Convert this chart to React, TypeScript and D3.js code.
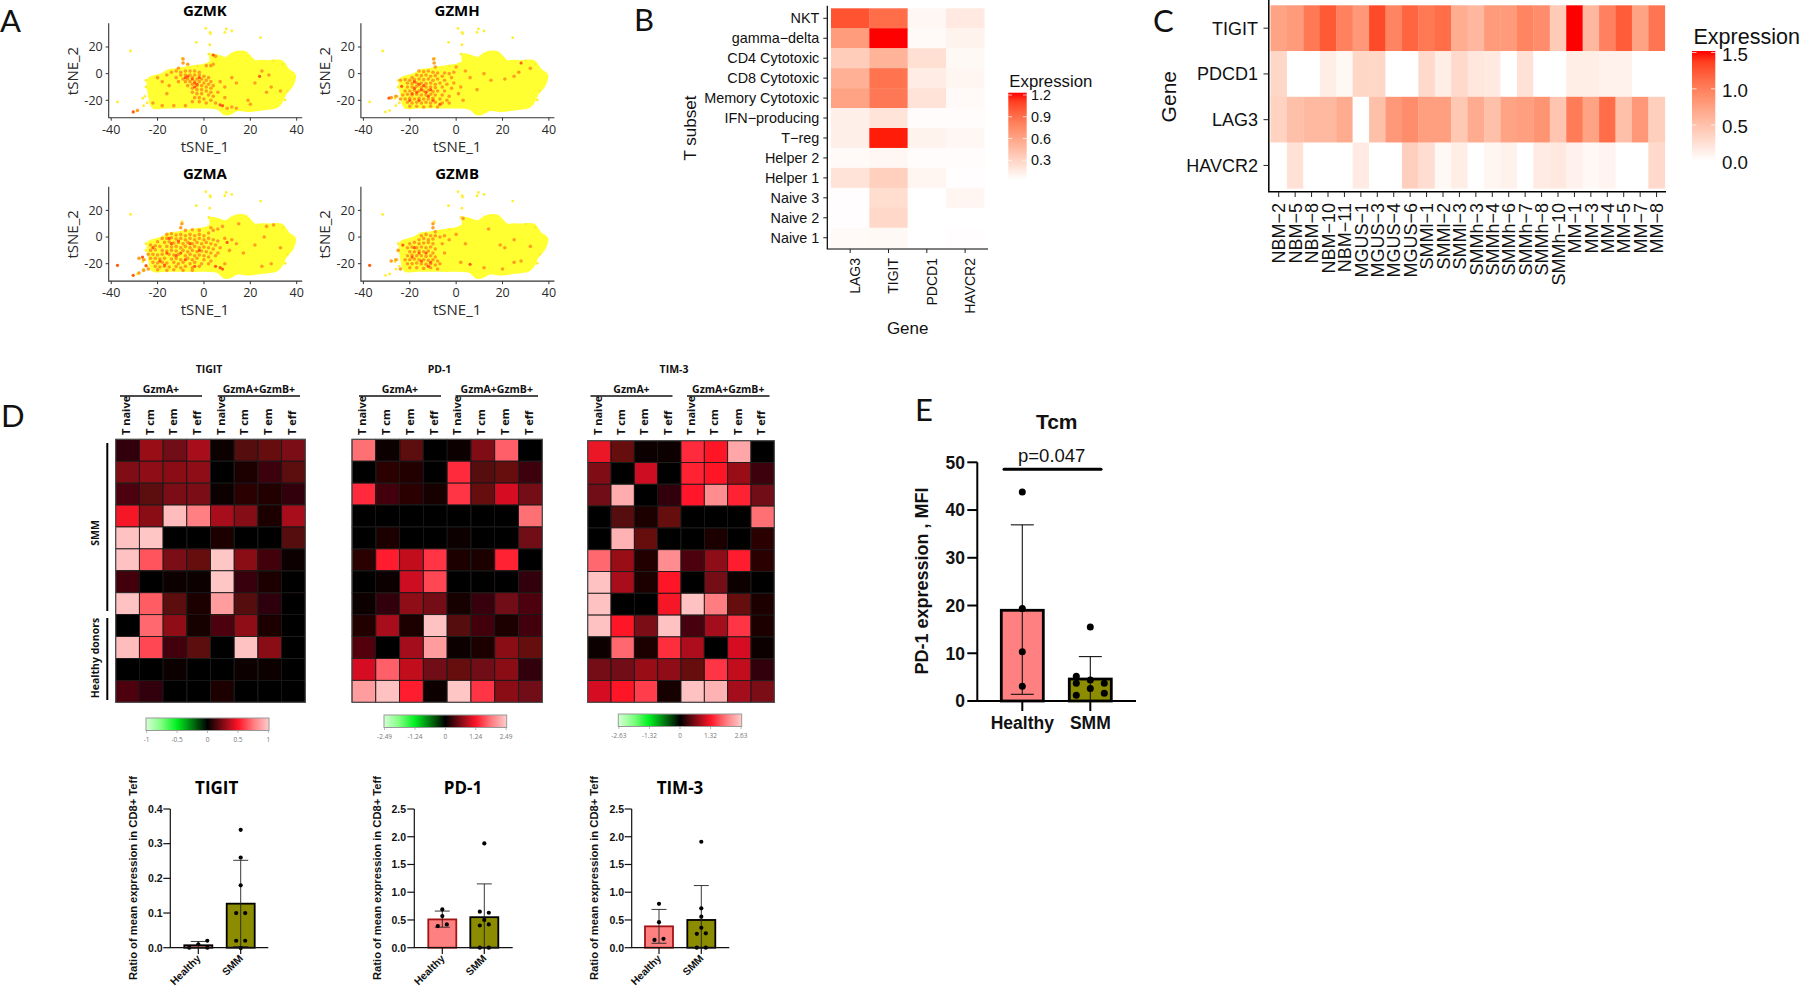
import React from "react";
import * as d3 from "d3";

// ---------- Panel A data ----------
const genesA = ["GZMK", "GZMH", "GZMA", "GZMB"];
const cloudOutline: [number, number][] = [[-23.8,-4.2],[-18.5,-1],[-15.2,2.2],[-12,3],[-8.6,4],[-3,5.5],[0.5,6.5],[3,9],[3,14],[7,12.5],[9.6,11.5],[12,14.5],[14.5,16],[17.8,15.7],[20,12],[22,9],[25,9.3],[27.7,9],[33.5,9],[36.3,2.7],[39,-1],[38,-8.5],[35,-15],[33,-22],[31,-25],[25,-26.5],[19.5,-27.7],[14.5,-27],[11,-30],[8.7,-30],[6,-26],[-5.3,-25],[-16.8,-25],[-22,-25],[-23.4,-17]];
const outliers: [number, number][] = [[-31.7,17],[0.8,34],[2.6,31],[2.8,30],[9.6,33.5],[9,31],[12,32],[24.4,27],[-3.3,23.5],[2.5,21.7],[2.1,14.7],[-37.3,-21.2],[-30.5,-28.7],[-28.7,-27.7],[-25.4,-17],[-26.4,-18.5],[-25,-10],[35,-19.7],[-2.8,5.7],[-9.4,11.5],[-25,-5],[-24.5,-22],[-26,-24],[30,9.5],[34,7],[36,-13]];

const gzmkMid: [number, number][] = [[-12,2],[-10,1],[-8,2],[-6,2],[-4,2],[-2,1],[-9,8],[-9,11],[-7,7],[-10,-1],[-8,-1],[-6,-1],[-4,-1],[-2,-1],[0,-2],[2,-3],[-12,-3],[-9,-4],[-7,-4],[-5,-3],[-3,-4],[-1,-4],[1,-5],[3,-6],[-11,-6],[-8,-6],[-6,-6],[-4,-6],[-2,-6],[0,-7],[2,-8],[4,-9],[-7,-9],[-5,-8],[-3,-9],[-1,-9],[1,-10],[3,-11],[-5,-11],[-3,-12],[-1,-12],[1,-13],[3,-14],[6,-14],[-5,-14],[-3,-15],[-1,-15],[2,-16],[4,-17],[-4,-18],[-2,-18],[0,-19],[3,-20],[-5,-21],[-2,-21],[1,-22],[5,-22],[-16,-1],[-14,1],[-18,-6],[-15,-9],[-20,-3],[3,6],[1,6],[-16,-15],[-22,-22],[-18,-24],[-13,-24],[-8,-24],[10,-26],[12,-25],[14,-26],[9,-10],[12,-3],[14,-7],[25,2],[22,-7],[28,-1],[19,-20],[20,-23],[9,-18],[7,-6],[29,-10],[33,-13],[27,-14],[-28.7,-27.7],[5,13],[4,7],[-11,4]];
const gzmkHigh: [number, number][] = [[-8,-3],[-7,-2],[-4,-7],[-3,-8],[-5,-4],[-2,-3],[8,-24],[7,-23.5],[-30.5,-28.7],[24,-2],[4,14],[-4,-10]];

const gzmhMid: [number, number][] = [[-16,2],[-14,1.5],[-12,2],[-10,1],[-8,0.5],[-5,0.5],[-3,0],[-1,1],[-9.5,8],[-9.7,11],[-9,5],[-17,-1],[-15,-1.5],[-13,-1],[-11,-2],[-9,-1.5],[-6,-2],[-2,-3],[-19,-3],[-22,-4.5],[-20,-5],[-18,-4.5],[-16,-4],[-14,-4.5],[-12,-4],[-10,-5],[-8,-4],[-5,-5],[-21,-7],[-19,-7.5],[-17,-7],[-15,-7],[-13,-7.5],[-11,-7],[-9,-8],[-7,-7],[-4,-8],[-1,-7],[-21,-10],[-19,-10],[-17,-9.5],[-15,-10.5],[-13,-10],[-11,-10],[-9,-10.5],[-6,-10],[-2,-11],[2,-10],[-22,-13],[-20,-13],[-18,-12.5],[-16,-13],[-14,-13],[-12,-12.5],[-10,-13.5],[-8,-13],[-5,-13],[-23,-16],[-21,-15.5],[-19,-16],[-17,-15.5],[-15,-16],[-13,-16],[-11,-15.5],[-9,-16],[-6,-16],[-3,-17],[1,-15],[-22,-19],[-20,-18.5],[-18,-19],[-16,-18.5],[-14,-19],[-12,-19],[-10,-18.5],[-7,-19],[-4,-20],[-24,-19],[-21,-21.5],[-19,-22],[-17,-21.5],[-15,-22],[-13,-21.5],[-11,-22],[-9,-21.5],[-6,-22],[-3,-22],[-20,-24.5],[-17,-24.5],[-14,-25],[-11,-24.5],[-8,-25],[6,-3],[4,2],[12,0],[15,-5],[21,-4],[27,1],[32,4],[25,-2],[9,-12],[-28,-18],[-26,-17],[0,5],[3,-20],[-24,-5]];
const gzmhHigh: [number, number][] = [[-18,-6],[-16,-8],[-14,-9],[-15,-12],[-17,-14],[-13,-14],[-19,-15],[-12,-17],[-16,-20],[-10,-20],[-23.5,-9.5],[-29,-18.3],[28,8],[-18,-11],[-11,-12],[-20,-20],[-7,-23]];

const gzmaMid: [number, number][] = [[-16,2],[-14,2.5],[-12,1.5],[-10,2],[-8,1],[-6,2],[-4,1],[-2,2],[0,1],[2,3],[4,5],[6,6],[8,8],[-9.5,10],[-10,7],[-8,5],[-5,5.5],[-2,5],[3,7],[-18,-1],[-16,-1],[-14,-0.5],[-12,-1.5],[-10,-1],[-8,-2],[-6,-1],[-4,-2],[-2,-1],[0,-2],[2,-1],[4,-2],[6,-3],[9,-1],[-20,-3.5],[-17,-4],[-15,-3.5],[-13,-4.5],[-11,-4],[-9,-5],[-7,-4],[-5,-5],[-3,-4],[-1,-5],[1,-4],[3,-5],[5,-6],[-23,-6],[-21,-6.5],[-19,-7],[-16,-7],[-14,-7.5],[-12,-7],[-10,-8],[-8,-7],[-6,-8],[-4,-7],[-2,-8],[0,-7.5],[2,-8],[4,-9],[7,-8],[-23,-10],[-21,-9.5],[-18,-10],[-16,-10.5],[-14,-10],[-12,-10.5],[-9,-10],[-7,-11],[-5,-10],[-3,-11],[-1,-10.5],[1,-11],[3,-12],[6,-12],[-24,-13],[-22,-13],[-20,-13.5],[-18,-13],[-15,-13],[-13,-13.5],[-11,-13],[-8,-14],[-6,-13],[-4,-14],[-2,-13.5],[0,-14],[2,-15],[5,-14],[-23,-16],[-21,-16],[-19,-16.5],[-17,-16],[-14,-16.5],[-12,-16],[-10,-17],[-7,-16],[-5,-17],[-3,-16],[0,-17],[3,-18],[-22,-19],[-20,-19.5],[-18,-19],[-16,-19.5],[-13,-19],[-11,-20],[-9,-19],[-6,-20],[-4,-19],[-1,-20],[2,-20],[-21,-22],[-19,-22.5],[-17,-22],[-15,-22.5],[-12,-22],[-10,-23],[-8,-22],[-5,-23],[-2,-22],[-20,-24.5],[-16,-25],[-13,-24.5],[-9,-25],[-5,-25],[-28,-16],[-26,-17],[-28,-27],[-24,-24],[-26,-25],[12,-2],[14,-5],[11,-10],[15,10],[27,8],[30,9],[17,-12],[22,-6],[26,0],[9,-20],[25,-22],[33,-8],[29,-20]];
const gzmaHigh: [number, number][] = [[-15,-1],[-11,-3],[-16,-12],[-19,-18],[-12,-14],[-8,-17],[-17,-21],[-14,-5],[-6,-5],[-2,-10],[-37.3,-21.2],[-30.5,-28.7],[-25,-21.5],[-26.5,-15],[-22,-8],[-10,-12],[5,-22],[7,-23],[8,-24],[-4,-22],[10,-4]];

const gzmbMid: [number, number][] = [[-15,1],[-13,2],[-11,1],[-9,1],[-7,0],[-5,1],[-10,10],[-10,7],[-9,4],[-16,-2],[-14,-1],[-12,-2],[-10,-1.5],[-3,-2],[-20,-5],[-18,-4],[-16,-5],[-14,-4.5],[-12,-4],[-10,-5],[-6,-5],[-21,-8],[-19,-7.5],[-17,-8],[-15,-7.5],[-13,-8],[-11,-7.5],[-9,-9],[-20,-11],[-18,-11],[-16,-10.5],[-14,-11],[-12,-10.5],[-10,-12],[-5,-12],[-21,-14],[-19,-13.5],[-17,-14],[-15,-14],[-13,-14.5],[-11,-14],[-9,-15],[-22,-17],[-20,-17],[-18,-16.5],[-16,-17],[-14,-17],[-12,-17.5],[-10,-17],[-8,-18],[-21,-20],[-19,-20],[-17,-19.5],[-15,-20],[-13,-20.5],[-11,-20],[-9,-21],[-7,-20],[-20,-23],[-17,-23],[-14,-23.5],[-11,-23],[-8,-24],[-25,-10],[-26,-17],[-28,-18],[-24,-24],[0,2],[4,-5],[14,6],[19,-6],[21,-8],[25,-2],[32,-7],[25,-19],[28,-18],[12,-23],[20,-24],[2,-19],[3,14]];
const gzmbHigh: [number, number][] = [[-18,-8],[-16,-12],[-13,-12],[-19,-15],[-15,-18],[-11,-19],[-37.3,-21.2],[6,-20.5],[-12,-22],[-23,-6]];

const midLists = [gzmkMid, gzmhMid, gzmaMid, gzmbMid];
const highLists = [gzmkHigh, gzmhHigh, gzmaHigh, gzmbHigh];
const tsneXTicks = [-40, -20, 0, 20, 40];
const tsneYTicks = [-20, 0, 20];

// ---------- Panel B data ----------
const subsets = ["NKT", "gamma\u2212delta", "CD4 Cytotoxic", "CD8 Cytotoxic", "Memory Cytotoxic", "IFN\u2212producing", "T\u2212reg", "Helper 2", "Helper 1", "Naive 3", "Naive 2", "Naive 1"];
const genesB = ["LAG3", "TIGIT", "PDCD1", "HAVCR2"];
const valuesB = [
  [1.0, 0.88, 0.05, 0.14],
  [0.62, 1.2, 0.03, 0.08],
  [0.32, 0.48, 0.2, 0.04],
  [0.5, 0.85, 0.12, 0.06],
  [0.58, 0.82, 0.18, 0.03],
  [0.1, 0.17, 0.02, 0.02],
  [0.1, 1.17, 0.08, 0.05],
  [0.03, 0.05, 0.02, 0.02],
  [0.18, 0.3, 0.06, 0.01],
  [0.01, 0.22, 0, 0.06],
  [0.01, 0.25, 0, 0],
  [0.03, 0.04, 0, 0.01],
];
const legendBTicks = [0.3, 0.6, 0.9, 1.2];

// ---------- Panel C data ----------
const samples = ["NBM\u22122","NBM\u22125","NBM\u22128","NBM\u221210","NBM\u221211","MGUS\u22121","MGUS\u22123","MGUS\u22124","MGUS\u22126","SMMl\u22121","SMMl\u22122","SMMl\u22123","SMMh\u22123","SMMh\u22124","SMMh\u22126","SMMh\u22127","SMMh\u22128","SMMh\u221210","MM\u22121","MM\u22123","MM\u22124","MM\u22125","MM\u22127","MM\u22128"];
const genesC = ["TIGIT", "PDCD1", "LAG3", "HAVCR2"];
const tigitC = [0.72,0.78,1.02,1.22,0.97,0.8,1.3,0.94,1.15,1.02,1.1,0.65,0.56,0.78,0.78,0.94,0.88,0.42,1.5,0.56,0.97,1.2,0.72,1.05];
const pdcd1C = [0.32,0,0,0.14,0.06,0.32,0.32,0,0,0.3,0.14,0.3,0.19,0.17,0,0.24,0,0,0.14,0.14,0.11,0.11,0,0];
const lag3C = [0.36,0.5,0.55,0.55,0.66,0,0.5,0.8,0.88,0.75,0.75,0.44,0.66,0.5,0.72,0.75,0.83,0.46,1.0,0.72,1.1,0.5,0.8,0.38];
const havcr2C = [0,0.24,0,0,0,0.16,0,0,0.38,0.27,0.05,0.14,0,0.08,0.11,0,0.16,0.18,0.11,0.05,0.09,0,0,0.3];
const valuesC = [tigitC, pdcd1C, lag3C, havcr2C];
const legendCTicks = ["0.0", "0.5", "1.0", "1.5"];

// ---------- Panel D data ----------
const cellTypes = ["T naive", "T cm", "T em", "T eff"];
const tigitD = [
  [.1,.3,.22,.33,.02,.17,.2,.24],
  [.25,.28,.27,.28,0,.05,.12,.18],
  [.15,.18,.24,.24,.02,.08,.07,.1],
  [.48,.27,.95,.76,.33,.26,.05,.33],
  [.97,.98,0,0,.06,0,0,.17],
  [.97,.65,.24,.2,.98,.27,.13,.02],
  [.13,0,.03,.02,.98,.11,.06,0],
  [.97,.67,.18,.05,.85,.17,.09,.01],
  [0,.7,.28,.04,.15,.28,.05,.01],
  [.95,.62,.13,.18,0,.97,.27,0],
  [0,0,.02,0,0,.02,.03,0],
  [.15,.1,0,.01,.05,0,0,.01],
];
const pd1D = [
  [.72,.03,.18,0,.03,.25,.68,0],
  [0,.08,.07,0,.55,.17,.2,.12],
  [.55,.13,.08,.04,.58,.2,.42,.23],
  [0,0,0,.01,0,0,0,.72],
  [.01,.05,0,0,.02,0,0,.22],
  [.08,.52,.38,.58,.05,.05,.53,0],
  [0,.02,.4,.62,0,0,.01,.1],
  [.02,.1,.28,.23,.04,.11,.22,.15],
  [.07,.33,.05,.97,.17,.13,.06,.13],
  [.16,0,.32,.85,.02,.06,.27,.2],
  [.42,.68,.38,.22,.2,.22,.27,.1],
  [.85,.97,.52,.03,.98,.58,.27,.22],
];
const tim3D = [
  [.46,.2,.03,.03,.55,.5,.88,0],
  [.25,0,.4,0,.53,.5,.3,.12],
  [.22,.9,0,.1,.51,.8,.53,.22],
  [0,.17,.05,.2,0,0,0,.72],
  [0,.92,.2,0,0,.05,0,.08],
  [.7,.3,.07,.8,.15,.28,.52,.08],
  [.97,.33,.06,.5,0,.23,.03,0],
  [.97,0,0,.48,.97,.75,.2,.06],
  [.97,.5,.24,.97,.14,.32,.58,.05],
  [.02,.7,.05,.56,.34,0,.42,.03],
  [.23,.22,.3,.28,.2,.58,.38,.1],
  [.42,.5,.6,.04,.97,.92,.32,.24],
];
const tigitCbar = ["-1", "-0.5", "0", "0.5", "1"];
const pd1Cbar = ["-2.49", "-1.24", "0", "1.24", "2.49"];
const tim3Cbar = ["-2.63", "-1.32", "0", "1.32", "2.63"];

// ---------- Bars ----------
const barGroups = ["Healthy", "SMM"];
const ratioTicksTigit = [0, 0.1, 0.2, 0.3, 0.4];
const ratioTicksOther = [0, 0.5, 1.0, 1.5, 2.0, 2.5];
const tigitMeans = [0.007, 0.127];
const tigitErr = [[0, 0.018], [0.003, 0.252]];
const tigitDots: [number, number][][] = [
  [[-2,0],[0,0.01],[2,0.02],[2,0]],
  [[0,0.34],[0,0.26],[0,0.18],[-1,0.1],[1,0.1],[-1,0.02],[1,0.02],[0,-0.001]],
];
const pd1Means = [0.51, 0.55];
const pd1Err = [[0.37, 0.66], [0, 1.15]];
const pd1Dots: [number, number][][] = [
  [[0,0.69],[0,0.57],[-1,0.39],[1,0.42]],
  [[0,1.88],[-1,0.65],[1,0.63],[0,0.5],[-1,0.4],[1,0.42],[-1,0],[1,0]],
];
const tim3Means = [0.385, 0.5];
const tim3Err = [[0.08, 0.69], [0, 1.12]];
const tim3Dots: [number, number][][] = [
  [[0,0.79],[0,0.46],[-1,0.14],[1,0.16]],
  [[0,1.91],[0,0.71],[0,0.56],[0,0.36],[-1,0.25],[1,0.26],[-1,0],[1,0]],
];
const tcmTicks = [0, 10, 20, 30, 40, 50];
const tcmMeans = [19, 4.6];
const tcmErr = [[1.4, 36.9], [0, 9.3]];
const tcmDots: [number, number][][] = [
  [[0,43.8],[0,19.4],[0,10.3],[0,3.1]],
  [[0,15.5],[-1,5.2],[-1,3.7],[0,4.4],[1,3.7],[0,2.6],[-1,1.2],[1,1.6]],
];

const SANS = "'Liberation Sans', Arial, sans-serif";
const OPEN = "'Open Sans', sans-serif";
const LATO = "Lato, sans-serif";

const lab = d3.interpolateLab("#ffffff", "#ff0000");
const colorB = (v: number) => lab(v / 1.2);
const colorC = (v: number) => lab(v / 1.5);
const heatD = d3.scaleLinear<string>().domain([-1, -0.75, -0.5, 0, 0.5, 0.75, 1]).range(["#d4ffd4", "#80ff80", "#00f020", "#000000", "#ff1428", "#ff7c80", "#ffcccc"]).interpolate(d3.interpolateRgb as any);

function TsnePanel({ i, ox, oy }: { i: number; ox: number; oy: number }) {
  const x = d3.scaleLinear().domain([-40, 40]).range([ox + 2.5, ox + 188]);
  const y = d3.scaleLinear().domain([-20, 20]).range([oy + 77, oy + 23.7]);
  const bottom = oy + 94.4;
  const top = oy;
  const line = d3.line<[number, number]>().x((d) => x(d[0])).y((d) => y(d[1])).curve(d3.curveCatmullRomClosed);
  const cx = x(0);
  return (
    <g fontFamily={OPEN} fill="#2a2a2a">
      <text x={cx + 1} y={oy - 7.3} textAnchor="middle" fontWeight="700" fontSize={15} fill="#000">{genesA[i]}</text>
      <g filter="url(#softA)">
        <path d={line(cloudOutline) || ""} fill="#ffff33" stroke="#ffff33" strokeWidth={3} strokeLinejoin="round" />
        {outliers.map((d, k) => <circle key={k} cx={x(d[0])} cy={y(d[1])} r={1.4} fill="#ffee30" />)}
        {midLists[i].map((d, k) => <circle key={k} cx={x(d[0])} cy={y(d[1])} r={1.8} fill="#ffa020" />)}
        {highLists[i].map((d, k) => <circle key={k} cx={x(d[0])} cy={y(d[1])} r={1.6} fill="#ff5a18" />)}
      </g>
      <path d={`M${ox},${top}V${bottom}H${ox + 193.5}`} fill="none" stroke="#333" strokeWidth={1.1} />
      {tsneXTicks.map((t) => (
        <g key={t}>
          <line x1={x(t)} x2={x(t)} y1={bottom} y2={bottom + 3} stroke="#333" />
          <text x={x(t)} y={bottom + 16.3} textAnchor="middle" fontSize={12.5}>{t}</text>
        </g>
      ))}
      {tsneYTicks.map((t) => (
        <g key={t}>
          <line x1={ox - 3} x2={ox} y1={y(t)} y2={y(t)} stroke="#333" />
          <text x={ox - 6} y={y(t) + 4.3} textAnchor="end" fontSize={12.5}>{t}</text>
        </g>
      ))}
      <text x={cx + 1} y={bottom + 34} textAnchor="middle" fontSize={15}>tSNE_1</text>
      <text transform={`translate(${ox - 31},${oy + 47.7}) rotate(-90)`} textAnchor="middle" fontSize={15}>tSNE_2</text>
    </g>
  );
}

function PanelB() {
  const x = d3.scaleBand().domain(genesB).range([831, 984.3]);
  const y = d3.scaleBand().domain(subsets).range([8.3, 247.7]);
  const gy = d3.scaleLinear().domain([0.3, 1.2]).range([160.3, 95]);
  return (
    <g fontFamily={SANS} fill="#111">
      {valuesB.map((row, r) => row.map((v, c) => (
        <rect key={`${r}-${c}`} x={x(genesB[c])} y={y(subsets[r])} width={x.bandwidth() + 0.3} height={y.bandwidth() + 0.3} fill={colorB(v)} />
      )))}
      <path d="M827.3,5.7V249H988" fill="none" stroke="#000" strokeWidth={1.2} />
      {subsets.map((s) => (
        <g key={s}>
          <line x1={823.3} x2={827.3} y1={y(s)! + y.bandwidth() / 2} y2={y(s)! + y.bandwidth() / 2} stroke="#222" />
          <text x={819.3} y={y(s)! + y.bandwidth() / 2 + 5} textAnchor="end" fontSize={14.4}>{s}</text>
        </g>
      ))}
      {genesB.map((g) => (
        <g key={g}>
          <line x1={x(g)! + x.bandwidth() / 2} x2={x(g)! + x.bandwidth() / 2} y1={249} y2={253} stroke="#222" />
          <text transform={`translate(${x(g)! + x.bandwidth() / 2 + 10},258) rotate(-90)`} textAnchor="end" fontSize={14}>{g}</text>
        </g>
      ))}
      <text transform="translate(696,128) rotate(-90)" textAnchor="middle" fontSize={17}>T subset</text>
      <text x={907.7} y={334} textAnchor="middle" fontSize={17}>Gene</text>
      <text x={1009.3} y={87.3} fontSize={16.8}>Expression</text>
      <rect x={1008.3} y={92.7} width={18.4} height={87.3} fill="url(#gradB)" />
      {legendBTicks.map((t) => (
        <g key={t}>
          <line x1={1008.3} x2={1012} y1={gy(t)} y2={gy(t)} stroke="#fff" strokeOpacity={0.7} />
          <line x1={1023} x2={1026.7} y1={gy(t)} y2={gy(t)} stroke="#fff" strokeOpacity={0.7} />
          <text x={1031} y={gy(t) + 5} fontSize={14.4}>{t.toFixed(1)}</text>
        </g>
      ))}
    </g>
  );
}

function PanelC() {
  const x = d3.scaleBand().domain(samples).range([1270.5, 1664.8]);
  const y = d3.scaleBand().domain(genesC).range([5.3, 188.3]);
  const ly = d3.scaleLinear().domain([0, 1.5]).range([161.4, 52.5]);
  return (
    <g fontFamily={SANS} fill="#111">
      {valuesC.map((row, r) => row.map((v, c) => (
        <rect key={`${r}-${c}`} x={x(samples[c])} y={y(genesC[r])} width={x.bandwidth() + 0.3} height={y.bandwidth() + 0.3} fill={colorC(v)} />
      )))}
      <path d="M1268.8,0V191.7H1666" fill="none" stroke="#000" strokeWidth={1.5} />
      {genesC.map((g) => {
        const cy = y(g)! + y.bandwidth() / 2;
        return (
          <g key={g}>
            <line x1={1263.5} x2={1268.8} y1={cy} y2={cy} stroke="#222" />
            <text x={1258} y={cy + 6.5} textAnchor="end" fontSize={18}>{g}</text>
          </g>
        );
      })}
      {samples.map((s) => {
        const cx = x(s)! + x.bandwidth() / 2;
        return (
          <g key={s}>
            <line x1={cx} x2={cx} y1={191.7} y2={197} stroke="#222" />
            <text transform={`translate(${cx + 6.7},203) rotate(-90)`} textAnchor="end" fontSize={18}>{s}</text>
          </g>
        );
      })}
      <text transform="translate(1175.8,96.7) rotate(-90)" textAnchor="middle" fontSize={21}>Gene</text>
      <text x={1693.5} y={44} fontSize={21.5}>Expression</text>
      <rect x={1692} y={51} width={23.3} height={110} fill="url(#gradC)" />
      {legendCTicks.map((t) => (
        <g key={t}>
          {+t > 0 && <line x1={1692} x2={1696.5} y1={ly(+t)} y2={ly(+t)} stroke="#fff" strokeOpacity={0.7} />}
          {+t > 0 && <line x1={1711} x2={1715.3} y1={ly(+t)} y2={ly(+t)} stroke="#fff" strokeOpacity={0.7} />}
          <text x={1722} y={ly(+t) + 8} fontSize={18.7}>{t}</text>
        </g>
      ))}
    </g>
  );
}

function HeatD({ title, values, x0, x1, y0, y1, cb, cbx0, cbx1, cby, groupsX, titleX }: any) {
  const cols = d3.range(8).map(String);
  const rows = d3.range(12).map(String);
  const x = d3.scaleBand().domain(cols).range([x0, x1]);
  const y = d3.scaleBand().domain(rows).range([y0, y1]);
  const cbs = d3.scalePoint<string>().domain(cb).range([cbx0 + 0.6, cbx1 - 0.6]);
  return (
    <g fontFamily={OPEN}>
      <text x={titleX} y={372.5} textAnchor="middle" fontWeight="700" fontSize={10.5} fill="#111">{title}</text>
      {groupsX.map((g: number[], k: number) => (
        <g key={k}>
          <text x={(g[0] + g[1]) / 2} y={393} textAnchor="middle" fontWeight="700" fontSize={10.5} fill="#111">{k === 0 ? "GzmA+" : "GzmA+GzmB+"}</text>
          <line x1={g[0]} x2={g[1]} y1={396} y2={396} stroke="#111" strokeWidth={1.3} />
        </g>
      ))}
      {cols.map((c, k) => (
        <text key={c} transform={`translate(${x(c)! + x.bandwidth() / 2 - 0.5},435) rotate(-90)`} textAnchor="start" fontWeight="700" fontSize={11} dominantBaseline="middle" fill="#111">{cellTypes[k % 4]}</text>
      ))}
      <g filter="url(#softD)">
        <rect x={x0} y={y0} width={x1 - x0} height={y1 - y0} fill="#000" />
        {values.map((row: number[], r: number) => row.map((v, c) => (
          <rect key={`${r}-${c}`} x={x(cols[c])} y={y(rows[r])} width={x.bandwidth()} height={y.bandwidth()} fill={heatD(v)} stroke="#1c1c1c" strokeWidth={0.9} />
        )))}
        <rect x={x0} y={y0} width={x1 - x0} height={y1 - y0} fill="none" stroke="#555" strokeWidth={1} />
      </g>
      <rect x={cbx0} y={cby} width={cbx1 - cbx0} height={12.5} fill={`url(#gradD)`} stroke="#999" strokeWidth={1} />
      {cb.map((t: string) => (
        <g key={t}>
          <line x1={cbs(t)} x2={cbs(t)} y1={cby + 12.5} y2={cby + 15} stroke="#999" strokeWidth={0.7} />
          <text x={cbs(t)} y={cby + 24} textAnchor="middle" fontSize={6.5} fill="#777">{t}</text>
        </g>
      ))}
    </g>
  );
}

function SmallBar({ title, titleX, axisX, axisEnd, centers, ticks, tickFmt, yMax, means, errs, dots, labelX, tickRight, healthyStroke }: any) {
  const y = d3.scaleLinear().domain([0, yMax]).range([947.7, 809]);
  const bw = 28;
  return (
    <g fontFamily={SANS} fontWeight="700" fill="#111">
      <text x={titleX} y={794} textAnchor="middle" fontFamily={OPEN} fontSize={17} fill="#000">{title}</text>
      <text transform={`translate(${labelX},878) rotate(-90)`} textAnchor="middle" fontSize={11.2}>Ratio of mean expression in CD8+ Teff</text>
      {means.map((m: number, i: number) => (
        <rect key={i} x={centers[i] - bw / 2} y={y(m)} width={bw} height={y(0) - y(m)} fill={i === 0 ? "#ff8080" : "#8c8c00"} stroke={i === 0 ? healthyStroke : "#000"} strokeWidth={1.8} />
      ))}
      {errs.map((e: number[], i: number) => (
        <g key={i} stroke="#222" strokeWidth={0.9}>
          <line x1={centers[i]} x2={centers[i]} y1={y(e[0])} y2={y(e[1])} />
          <line x1={centers[i] - 7.5} x2={centers[i] + 7.5} y1={y(e[1])} y2={y(e[1])} />
          <line x1={centers[i] - 7.5} x2={centers[i] + 7.5} y1={y(e[0])} y2={y(e[0])} />
        </g>
      ))}
      {dots.map((list: [number, number][], i: number) => list.map((d, k) => (
        <circle key={`${i}-${k}`} cx={centers[i] + d[0] * 4.5} cy={y(d[1])} r={2.1} fill="#000" />
      )))}
      <path d={`M${axisX},809V947.7H${axisEnd}`} fill="none" stroke="#111" strokeWidth={1.2} />
      {ticks.map((t: number) => (
        <g key={t}>
          <line x1={axisX - 7} x2={axisX} y1={y(t)} y2={y(t)} stroke="#111" strokeWidth={1.2} />
          <text x={tickRight} y={y(t) + 3.8} textAnchor="end" fontSize={10.5}>{t.toFixed(tickFmt)}</text>
        </g>
      ))}
      {barGroups.map((g, i) => (
        <g key={g}>
          <line x1={centers[i]} x2={centers[i]} y1={947.7} y2={954} stroke="#111" strokeWidth={1.2} />
          <text transform={`translate(${centers[i] + 3},959) rotate(-45)`} textAnchor="end" fontSize={10.5}>{g}</text>
        </g>
      ))}
    </g>
  );
}

function PanelE() {
  const y = d3.scaleLinear().domain([0, 50]).range([701, 462.3]);
  const centers = [1022.3, 1090.3];
  const bw = 42;
  return (
    <g fontFamily={SANS} fill="#111">
      <text x={1056.7} y={429} textAnchor="middle" fontFamily={SANS} fontWeight="700" fontSize={21}>Tcm</text>
      <text x={1051.7} y={461.5} textAnchor="middle" fontSize={18.5}>p=0.047</text>
      <line x1={1004} x2={1101} y1={469.3} y2={469.3} stroke="#000" strokeWidth={3} strokeLinecap="round" />
      {tcmMeans.map((m, i) => (
        <rect key={i} x={centers[i] - bw / 2} y={y(m)} width={bw} height={y(0) - y(m)} fill={i === 0 ? "#ff8080" : "#8c8c00"} stroke="#000" strokeWidth={2.8} />
      ))}
      {tcmErr.map((e, i) => (
        <g key={i} stroke="#111" strokeWidth={1.1}>
          <line x1={centers[i]} x2={centers[i]} y1={y(e[0])} y2={y(e[1])} />
          <line x1={centers[i] - 11.5} x2={centers[i] + 11.5} y1={y(e[1])} y2={y(e[1])} />
          <line x1={centers[i] - 11.5} x2={centers[i] + 11.5} y1={y(e[0])} y2={y(e[0])} />
        </g>
      ))}
      {tcmDots.map((list, i) => list.map((d, k) => (
        <circle key={`${i}-${k}`} cx={centers[i] + d[0] * 14} cy={y(d[1])} r={3.5} fill="#000" />
      )))}
      <path d="M977.3,462.3V701H1136" fill="none" stroke="#000" strokeWidth={2} />
      {tcmTicks.map((t) => (
        <g key={t} fontWeight="700">
          <line x1={967.3} x2={977.3} y1={y(t)} y2={y(t)} stroke="#000" strokeWidth={2} />
          <text x={965} y={y(t) + 6.3} textAnchor="end" fontSize={17.5}>{t}</text>
        </g>
      ))}
      {barGroups.map((g, i) => (
        <g key={g} fontWeight="700">
          <line x1={centers[i]} x2={centers[i]} y1={701} y2={711} stroke="#000" strokeWidth={2} />
          <text x={centers[i]} y={729} textAnchor="middle" fontSize={17.5}>{g}</text>
        </g>
      ))}
      <text transform="translate(928,581) rotate(-90)" textAnchor="middle" fontWeight="700" fontSize={18}>PD-1 expression , MFI</text>
    </g>
  );
}

export default function App() {
  const gradDStops = [-1, -0.75, -0.5, -0.25, 0, 0.25, 0.5, 0.75, 1];
  const gradSamples = d3.range(0, 1.01, 0.1);
  return (
    <svg width={1800} height={988} style={{ position: "absolute", left: 0, top: 0, display: "block", background: "#fff" }}>
      <defs>
        <filter id="softA" x="-5%" y="-5%" width="110%" height="110%"><feGaussianBlur stdDeviation="0.5" /></filter>
        <filter id="softD" x="-2%" y="-2%" width="104%" height="104%"><feGaussianBlur stdDeviation="0.5" /></filter>
        <linearGradient id="gradB" x1="0" y1="1" x2="0" y2="0">
          {gradSamples.map((s) => <stop key={s} offset={s} stopColor={lab(s)} />)}
        </linearGradient>
        <linearGradient id="gradC" x1="0" y1="1" x2="0" y2="0">
          {gradSamples.map((s) => <stop key={s} offset={s} stopColor={lab(s)} />)}
        </linearGradient>
        <linearGradient id="gradD" x1="0" y1="0" x2="1" y2="0">
          {gradDStops.map((s) => <stop key={s} offset={(s + 1) / 2} stopColor={heatD(s)} />)}
        </linearGradient>
      </defs>

      <g fontFamily={LATO} fontSize={31} fill="#111">
        <text x={0} y={32}>A</text>
        <text x={634} y={31}>B</text>
        <text x={1153} y={32}>C</text>
        <text x={1} y={427}>D</text>
        <text x={915} y={421}>E</text>
      </g>

      <TsnePanel i={0} ox={108.7} oy={23.3} />
      <TsnePanel i={1} ox={360.9} oy={23.3} />
      <TsnePanel i={2} ox={108.7} oy={186.7} />
      <TsnePanel i={3} ox={360.9} oy={186.7} />

      <PanelB />
      <PanelC />

      <HeatD title="TIGIT" values={tigitD} x0={115.7} x1={305.3} y0={439.3} y1={702.3} cb={tigitCbar} cbx0={146} cbx1={269} cby={718} groupsX={[[120, 202], [217.7, 300]]} titleX={209} />
      <HeatD title="PD-1" values={pd1D} x0={352} x1={542.3} y0={439.3} y1={702.3} cb={pd1Cbar} cbx0={384} cbx1={506.7} cby={715} groupsX={[[359, 441], [455.5, 538]]} titleX={439.5} />
      <HeatD title="TIM-3" values={tim3D} x0={587.7} x1={774.3} y0={440.7} y1={702.3} cb={tim3Cbar} cbx0={618.3} cbx1={741.7} cby={714} groupsX={[[590.5, 672.5], [687, 769.5]]} titleX={674} />

      <g fontFamily={OPEN} fontWeight="700" fontSize={10.5} fill="#111">
        <line x1={107.3} x2={107.3} y1={443} y2={611} stroke="#000" strokeWidth={2} />
        <line x1={107.3} x2={107.3} y1={618} y2={700} stroke="#000" strokeWidth={2} />
        <text transform="translate(99,533) rotate(-90)" textAnchor="middle">SMM</text>
        <text transform="translate(99,658) rotate(-90)" textAnchor="middle">Healthy donors</text>
      </g>

      <SmallBar title="TIGIT" titleX={216.7} axisX={170.3} axisEnd={268.3} centers={[198.3, 240.7]} ticks={ratioTicksTigit} tickFmt={1} yMax={0.4} means={tigitMeans} errs={tigitErr} dots={tigitDots} labelX={137} tickRight={162.7} healthyStroke="#000" />
      <SmallBar title="PD-1" titleX={463} axisX={414.3} axisEnd={512.7} centers={[442.3, 484.3]} ticks={ratioTicksOther} tickFmt={1} yMax={2.5} means={pd1Means} errs={pd1Err} dots={pd1Dots} labelX={381} tickRight={406} healthyStroke="#a01414" />
      <SmallBar title="TIM-3" titleX={680} axisX={631.7} axisEnd={729.3} centers={[659, 701.3]} ticks={ratioTicksOther} tickFmt={1} yMax={2.5} means={tim3Means} errs={tim3Err} dots={tim3Dots} labelX={598} tickRight={624} healthyStroke="#a01414" />

      <PanelE />
    </svg>
  );
}
